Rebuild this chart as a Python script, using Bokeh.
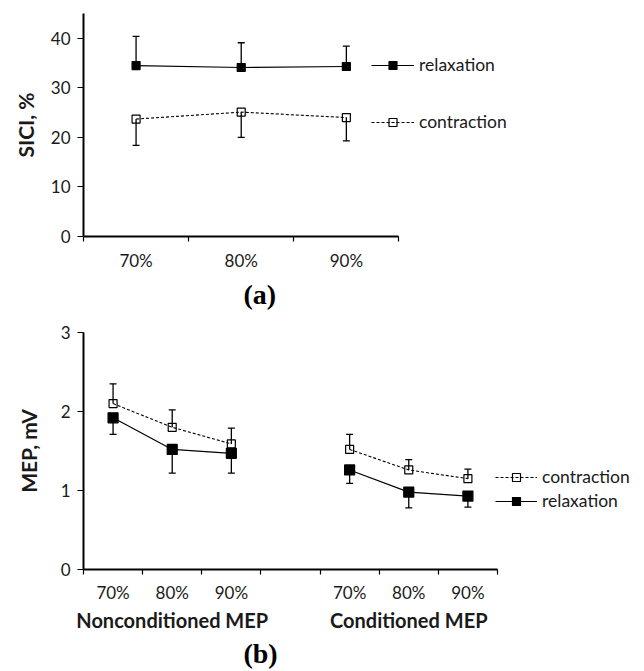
import math
from bokeh.plotting import figure
from bokeh.models import (Range1d, FixedTicker, Whisker, TeeHead, ColumnDataSource,
                          Legend, LegendItem, LinearAxis)
from bokeh.layouts import column
from bokeh.embed import file_html
from bokeh.resources import INLINE

FONT = "Lato"
nan = float("nan")

# ---------------- Panel (a): SICI ----------------
sici_levels = ["70%", "80%", "90%"]
sici_relaxation = [34.5, 34.1, 34.3]
sici_relaxation_err = [5.9, 5.0, 4.1]
sici_contraction = [23.7, 25.1, 24.0]
sici_contraction_err = [5.3, 5.1, 4.7]
sici_ticks = [0, 10, 20, 30, 40]
sici_max = 45

# ---------------- Panel (b): MEP ----------------
mep_levels = ["70%", "80%", "90%", "", "70%", "80%", "90%"]
mep_group_of = [0, 0, 0, None, 1, 1, 1]
mep_groups = ["Nonconditioned MEP", "Conditioned MEP"]
mep_contraction = [2.10, 1.80, 1.59, nan, 1.52, 1.26, 1.15]
mep_contraction_err = [0.25, 0.22, 0.20, nan, 0.19, 0.13, 0.12]
mep_relaxation = [1.92, 1.52, 1.47, nan, 1.26, 0.98, 0.93]
mep_relaxation_err = [0.21, 0.30, 0.25, nan, 0.17, 0.20, 0.14]
mep_ticks = [0, 1, 2, 3]
mep_max = 3


def base_fig(width, height, left, top, bottom, n_cats, cat_px, ymax, yticks, levels, ylabel,
             label_standoff_x, ylabel_standoff):
    frame_w = width - left
    p = figure(width=width, height=height, output_backend="svg", toolbar_location=None,
               x_range=Range1d(0, frame_w / cat_px), y_range=Range1d(0, ymax),
               min_border_left=left, min_border_right=0, min_border_top=top,
               min_border_bottom=bottom)
    p.outline_line_color = None
    p.xgrid.visible = False
    p.ygrid.visible = False
    p.background_fill_color = None
    p.border_fill_color = "white"

    centers = [i + 0.5 for i in range(n_cats)]
    xa = p.xaxis[0]
    xa.ticker = FixedTicker(ticks=centers, minor_ticks=list(range(n_cats + 1)))
    xa.bounds = (0, n_cats)
    xa.major_label_overrides = {c: lab for c, lab in zip(centers, levels)}
    xa.major_tick_line_color = None
    xa.major_tick_out = 0
    xa.major_tick_in = 0
    xa.minor_tick_line_color = "black"
    xa.minor_tick_out = 5
    xa.minor_tick_in = 0
    xa.minor_tick_line_width = 1.2
    xa.axis_line_width = 2
    xa.axis_line_color = "black"
    xa.major_label_text_font = FONT
    xa.major_label_text_font_size = "17px"
    xa.major_label_text_color = "#1a1a1a"
    xa.major_label_standoff = label_standoff_x

    ya = p.yaxis[0]
    ya.ticker = FixedTicker(ticks=yticks)
    ya.major_tick_out = 6
    ya.major_tick_in = 0
    ya.major_tick_line_width = 1.2
    ya.minor_tick_line_color = None
    ya.axis_line_width = 2
    ya.axis_line_color = "black"
    ya.major_label_text_font = FONT
    ya.major_label_text_font_size = "17px"
    ya.major_label_text_color = "#1a1a1a"
    ya.major_label_standoff = 7
    ya.axis_label = ylabel
    ya.axis_label_text_font = FONT
    ya.axis_label_text_font_style = "bold"
    ya.axis_label_text_font_size = "21px"
    ya.axis_label_text_color = "#1a1a1a"
    ya.axis_label_standoff = ylabel_standoff
    return p, centers


def text_axis(p, ticks, labels, font, size, standoff, color="#1a1a1a"):
    ax = LinearAxis(ticker=FixedTicker(ticks=ticks, minor_ticks=[]),
                    major_label_overrides={t: s for t, s in zip(ticks, labels)},
                    axis_line_color=None, major_tick_line_color=None,
                    minor_tick_line_color=None, major_tick_out=0, major_tick_in=0,
                    minor_tick_out=0, minor_tick_in=0,
                    major_label_text_font=font, major_label_text_font_style="bold",
                    major_label_text_font_size=size, major_label_text_color=color,
                    major_label_standoff=standoff)
    p.add_layout(ax, "below")
    return ax


def add_series(p, xs, ys, errs, upward, filled, size, dash):
    pts = [(x, y, e) for x, y, e in zip(xs, ys, errs) if not math.isnan(y)]
    wx = [q[0] for q in pts]
    wy = [q[1] for q in pts]
    we = [q[2] for q in pts]
    if upward:
        up = [y + e for y, e in zip(wy, we)]
        lo = wy
    else:
        up = wy
        lo = [y - e for y, e in zip(wy, we)]
    wsrc = ColumnDataSource(dict(x=wx, upper=up, lower=lo))
    head = TeeHead(size=7, line_width=1.3, line_color="black")
    w = Whisker(source=wsrc, base="x", upper="upper", lower="lower", dimension="height",
                line_color="black", line_width=1.3, level="underlay",
                upper_head=head if upward else None,
                lower_head=None if upward else head)
    p.add_layout(w)
    src = ColumnDataSource(dict(x=xs, y=ys))
    if dash:
        ln = p.line("x", "y", source=src, line_color="black", line_width=1.1, line_dash=dash)
    else:
        ln = p.line("x", "y", source=src, line_color="black", line_width=1.2)
    sc = p.scatter("x", "y", source=src, marker="square", size=size,
                   fill_color="black" if filled else None, line_color="black", line_width=1.2)
    return ln, sc


W = 644

# ---------- Figure (a) ----------
CAT_A = 105.33
pa, ca = base_fig(W, 318, 82, 13, 82, len(sici_levels), CAT_A, sici_max, sici_ticks,
                  sici_levels, "SICI, %", 8, 10)
ra = add_series(pa, ca, sici_relaxation, sici_relaxation_err, True, True, 8, None)
cb = add_series(pa, ca, sici_contraction, sici_contraction_err, False, False, 8, "3 2")
leg_a = Legend(items=[LegendItem(label="relaxation", renderers=list(ra)),
                      LegendItem(label="contraction", renderers=list(cb))],
               location=(288, 104), orientation="vertical", glyph_width=43, glyph_height=20,
               label_standoff=5, spacing=36, padding=0, margin=0, label_height=20,
               background_fill_alpha=0, border_line_color=None,
               label_text_font=FONT, label_text_font_size="17.5px", label_text_color="#1a1a1a")
pa.add_layout(leg_a)
text_axis(pa, [176.7 / CAT_A], ["(a)"], "Liberation Serif", "28px", 5, "black")

# ---------- Figure (b) ----------
CAT_B = 59.14
pb, cm = base_fig(W, 353, 83, 14, 100, len(mep_levels), CAT_B, mep_max, mep_ticks,
                  mep_levels, "MEP, mV", 7, 17)
cc = add_series(pb, cm, mep_contraction, mep_contraction_err, True, False, 8, "3 2")
rr = add_series(pb, cm, mep_relaxation, mep_relaxation_err, False, True, 10, None)
leg_b = Legend(items=[LegendItem(label="contraction", renderers=list(cc)),
                      LegendItem(label="relaxation", renderers=list(rr))],
               location=(412, 58), orientation="vertical", glyph_width=42, glyph_height=20,
               label_standoff=5, spacing=3, padding=0, margin=0, label_height=20,
               background_fill_alpha=0, border_line_color=None,
               label_text_font=FONT, label_text_font_size="17.5px", label_text_color="#1a1a1a")
pb.add_layout(leg_b)
group_centers = []
for gi in range(len(mep_groups)):
    members = [c for c, g in zip(cm, mep_group_of) if g == gi]
    group_centers.append(sum(members) / len(members))
text_axis(pb, group_centers, mep_groups, FONT, "20px", 2)
text_axis(pb, [177 / CAT_B], ["(b)"], "Liberation Serif", "28px", 3, "black")

layout = column(pa, pb, spacing=0)
open("out.html", "w").write(file_html(layout, INLINE))
